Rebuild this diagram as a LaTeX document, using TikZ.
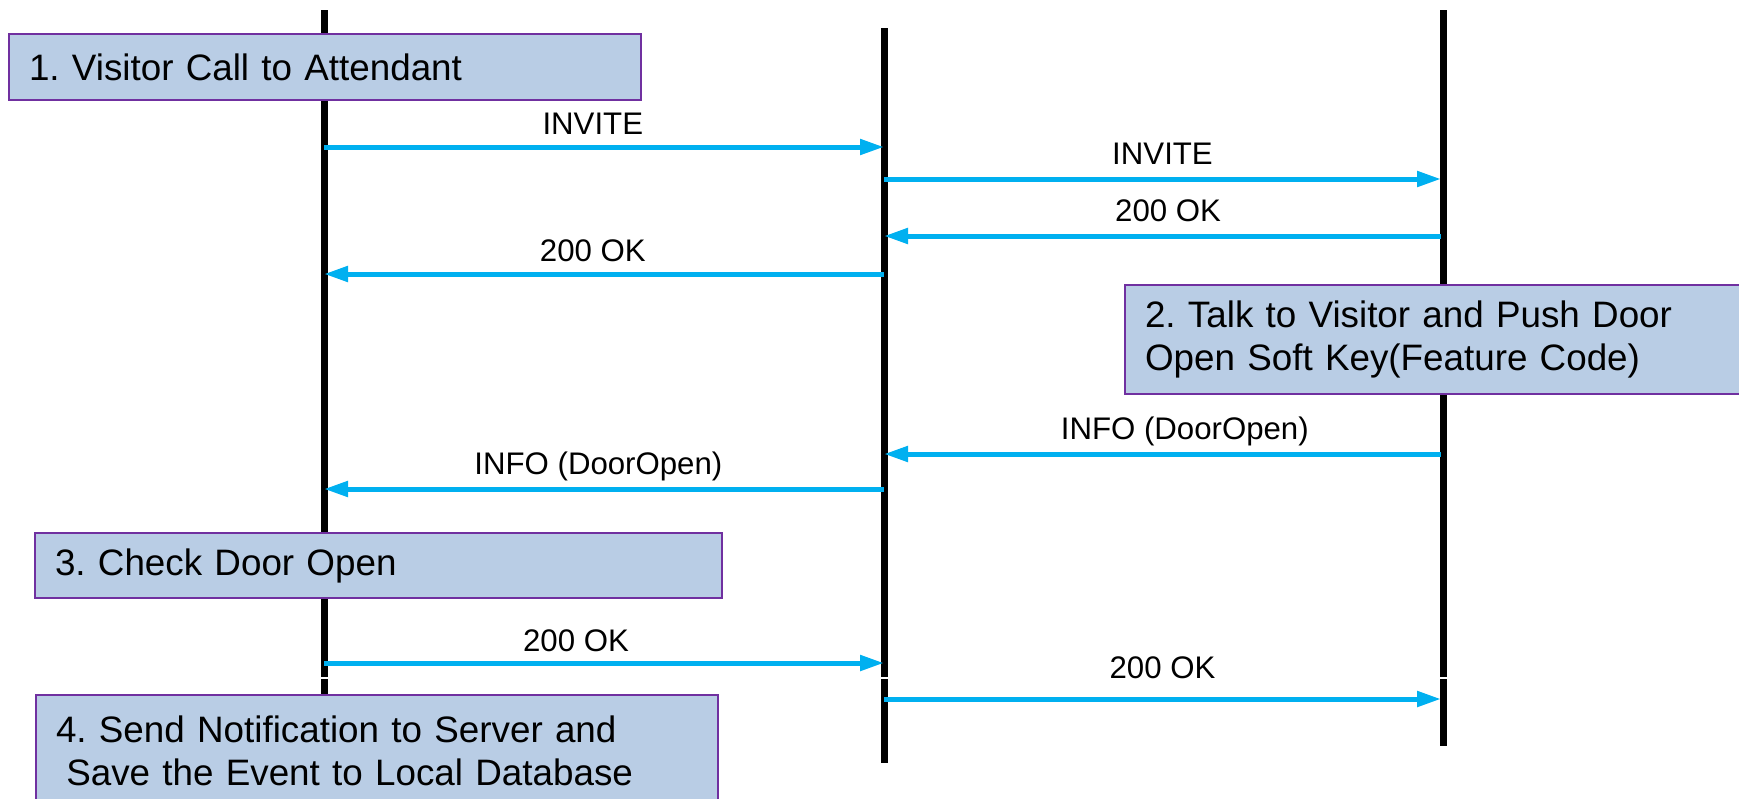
\documentclass[tikz,border=0pt]{standalone}
\usepackage{fontspec}
\setmainfont{Liberation Sans}
\usetikzlibrary{arrows.meta, positioning}
\definecolor{msgblue}{HTML}{00B0F0}
\definecolor{boxfill}{HTML}{B9CDE5}
\definecolor{boxline}{HTML}{7030A0}
\frenchspacing

\begin{document}
\begin{tikzpicture}[x=0.5pt, y=-0.5pt,
    lifeline/.style={line width=3.5pt},
    msg/.style={-{Triangle[length=12pt, width=7.5pt]}, line width=2.5pt, msgblue},
    msglabel/.style={anchor=base, yshift=7.5pt, inner sep=0pt, text=black, font=\fontsize{15.6pt}{18pt}\selectfont},
    stepbox/.style={draw=boxline, fill=boxfill, line width=1pt, anchor=north west, align=left,
      inner xsep=10pt, inner ysep=0pt, font=\fontsize{18.4pt}{21.3pt}\selectfont}]
	\clip (0,0) rectangle (1739,798);
	\fill[white] (0,0) rectangle (1739,798);
	\coordinate (door-top) at (324,10);
	\coordinate (door-bot) at (324,798);
	\coordinate (pbx-top) at (884,28);
	\coordinate (pbx-bot) at (884,763);
	\coordinate (att-top) at (1443,10);
	\coordinate (att-bot) at (1443,746);
	\foreach \l in {door,pbx,att}
		\draw[lifeline] (\l-top) -- (\l-bot);
	\draw[white, line width=1pt] (0,678) -- (1739,678);
	\foreach \n/\y in {1/147,2/179,3/236,4/274,5/454,6/489,7/663,8/699} {
		\coordinate (door\n) at (324,\y);
		\coordinate (pbx\n) at (884,\y);
		\coordinate (att\n) at (1441,\y);
	}
	\draw[msg] (door1) -- node[msglabel, pos=.48, yshift=-1pt] {INVITE} (pbx1);
	\draw[msg] (pbx2)  -- node[msglabel] {INVITE} (att2);
	\draw[msg] (att3)  -- node[msglabel, pos=.49] {200 OK} (pbx3);
	\draw[msg] (pbx4)  -- node[msglabel, pos=.52, yshift=-1pt] {200 OK} (door4);
	\draw[msg] (att5)  -- node[msglabel, pos=.46] {INFO (DoorOpen)} (pbx5);
	\draw[msg] (pbx6)  -- node[msglabel, pos=.51] {INFO (DoorOpen)} (door6);
	\draw[msg] (door7) -- node[msglabel, pos=.45, yshift=-1.5pt] {200 OK} (pbx7);
	\draw[msg] (pbx8)  -- node[msglabel, yshift=3pt] {200 OK} (att8);
	\node[stepbox, minimum width=316pt, minimum height=33pt, text width=296pt] (call) at (8,33)
		{1. Visitor Call to Attendant};
	\node[stepbox, minimum width=310.5pt, minimum height=54.5pt, text width=290.5pt] (talk) at (1124,284)
		{2. Talk to Visitor and Push Door\\Open Soft Key(Feature Code)};
	\node[stepbox, minimum width=343.5pt, minimum height=32.5pt, text width=323.5pt] (check) at (34,532)
		{3. Check Door Open};
	\node[stepbox, minimum width=341pt, minimum height=56pt, text width=321pt] (notify) at (35,694)
		{4. Send Notification to Server and\\\hspace*{.28em}Save the Event to Local Database};
\end{tikzpicture}
\end{document}
